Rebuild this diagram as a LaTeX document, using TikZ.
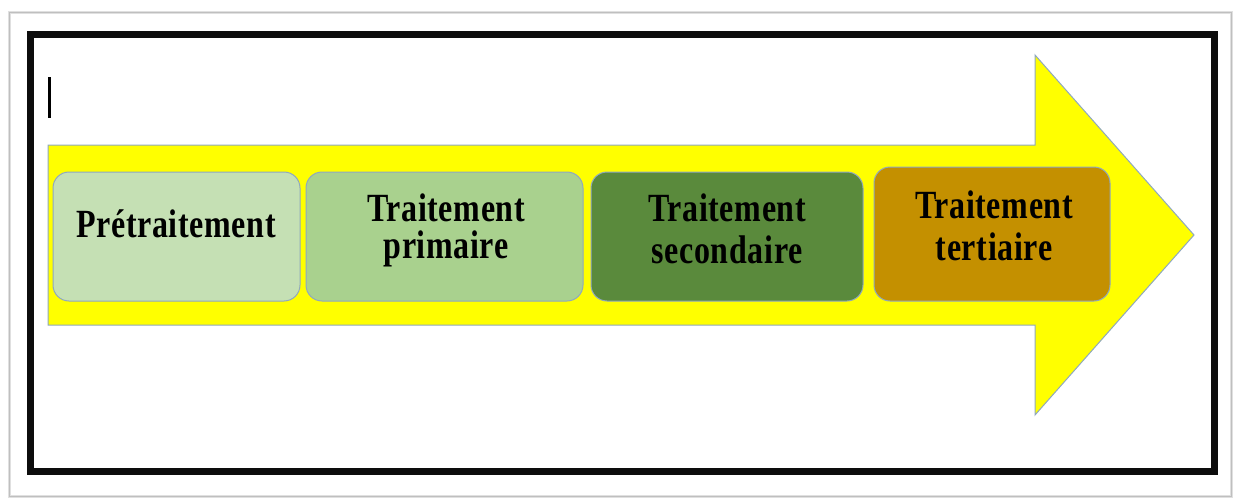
\documentclass[tikz,border=0pt]{standalone}
\usepackage{fontspec}
\usepackage{graphicx}
\setmainfont{Liberation Serif}
\definecolor{arrowyellow}{HTML}{FFFF00}
\definecolor{edgeblue}{HTML}{8FA8BE}
\definecolor{boxA}{HTML}{C5E0B4}
\definecolor{boxB}{HTML}{A9D18E}
\definecolor{boxC}{HTML}{5A8A3C}
\definecolor{boxD}{HTML}{C49000}
\tikzset{
  stagebox/.style={draw=edgeblue, line width=1pt, rounded corners=16pt, inner sep=0pt},
  stagetext/.style={anchor=base, inner sep=0pt, font=\bfseries\fontsize{32}{36}\selectfont\addfontfeature{LetterSpace=2}, text=black},
}
\newcommand{\tallT}[1]{\scalebox{1}[1.25]{#1}}
\begin{document}
\begin{tikzpicture}[x=1pt,y=-1pt]
\useasboundingbox (0,0) rectangle (1235,498);
\fill[white] (0,0) rectangle (1235,498);
% outer page frame
\draw[black!12, line width=3pt] (9,12) rectangle (1231,496);
\draw[black!25, line width=0.8pt] (9,12) rectangle (1231,496);
% black frame
\draw[black!95, line width=7pt] (30,34) rectangle (1214,471);
% text cursor
\draw[black, line width=3pt] (49,77) -- (49,118);
% yellow arrow
\draw[fill=arrowyellow, draw=edgeblue, line width=1pt, line join=miter]
  (48,145) -- (1035,145) -- (1035,55) -- (1194,235) -- (1035,415) -- (1035,325) -- (48,325) -- cycle;
% boxes
\node[stagebox, fill=boxA, minimum width=247pt, minimum height=129pt] (b1) at (176.5,236.5) {};
\node[stagebox, fill=boxB, minimum width=277pt, minimum height=129pt] (b2) at (444.5,236.5) {};
\node[stagebox, fill=boxC, minimum width=272pt, minimum height=129pt] (b3) at (727,236.5) {};
\node[stagebox, fill=boxD, minimum width=236pt, minimum height=134pt] (b4) at (992,234) {};
% labels
\node[stagetext] (t1) at (176,237) {\tallT{Prétraitement}};
\node[stagetext] (t2a) at (446,221) {\tallT{Traitement}};
\node[stagetext] (t2b) at (446,258) {\tallT{primaire}};
\node[stagetext] (t3a) at (727,221) {\tallT{Traitement}};
\node[stagetext] (t3b) at (727,263) {\tallT{secondaire}};
\node[stagetext] (t4a) at (994,218) {\tallT{Traitement}};
\node[stagetext] (t4b) at (994,260) {\tallT{tertiaire}};
\end{tikzpicture}
\end{document}
